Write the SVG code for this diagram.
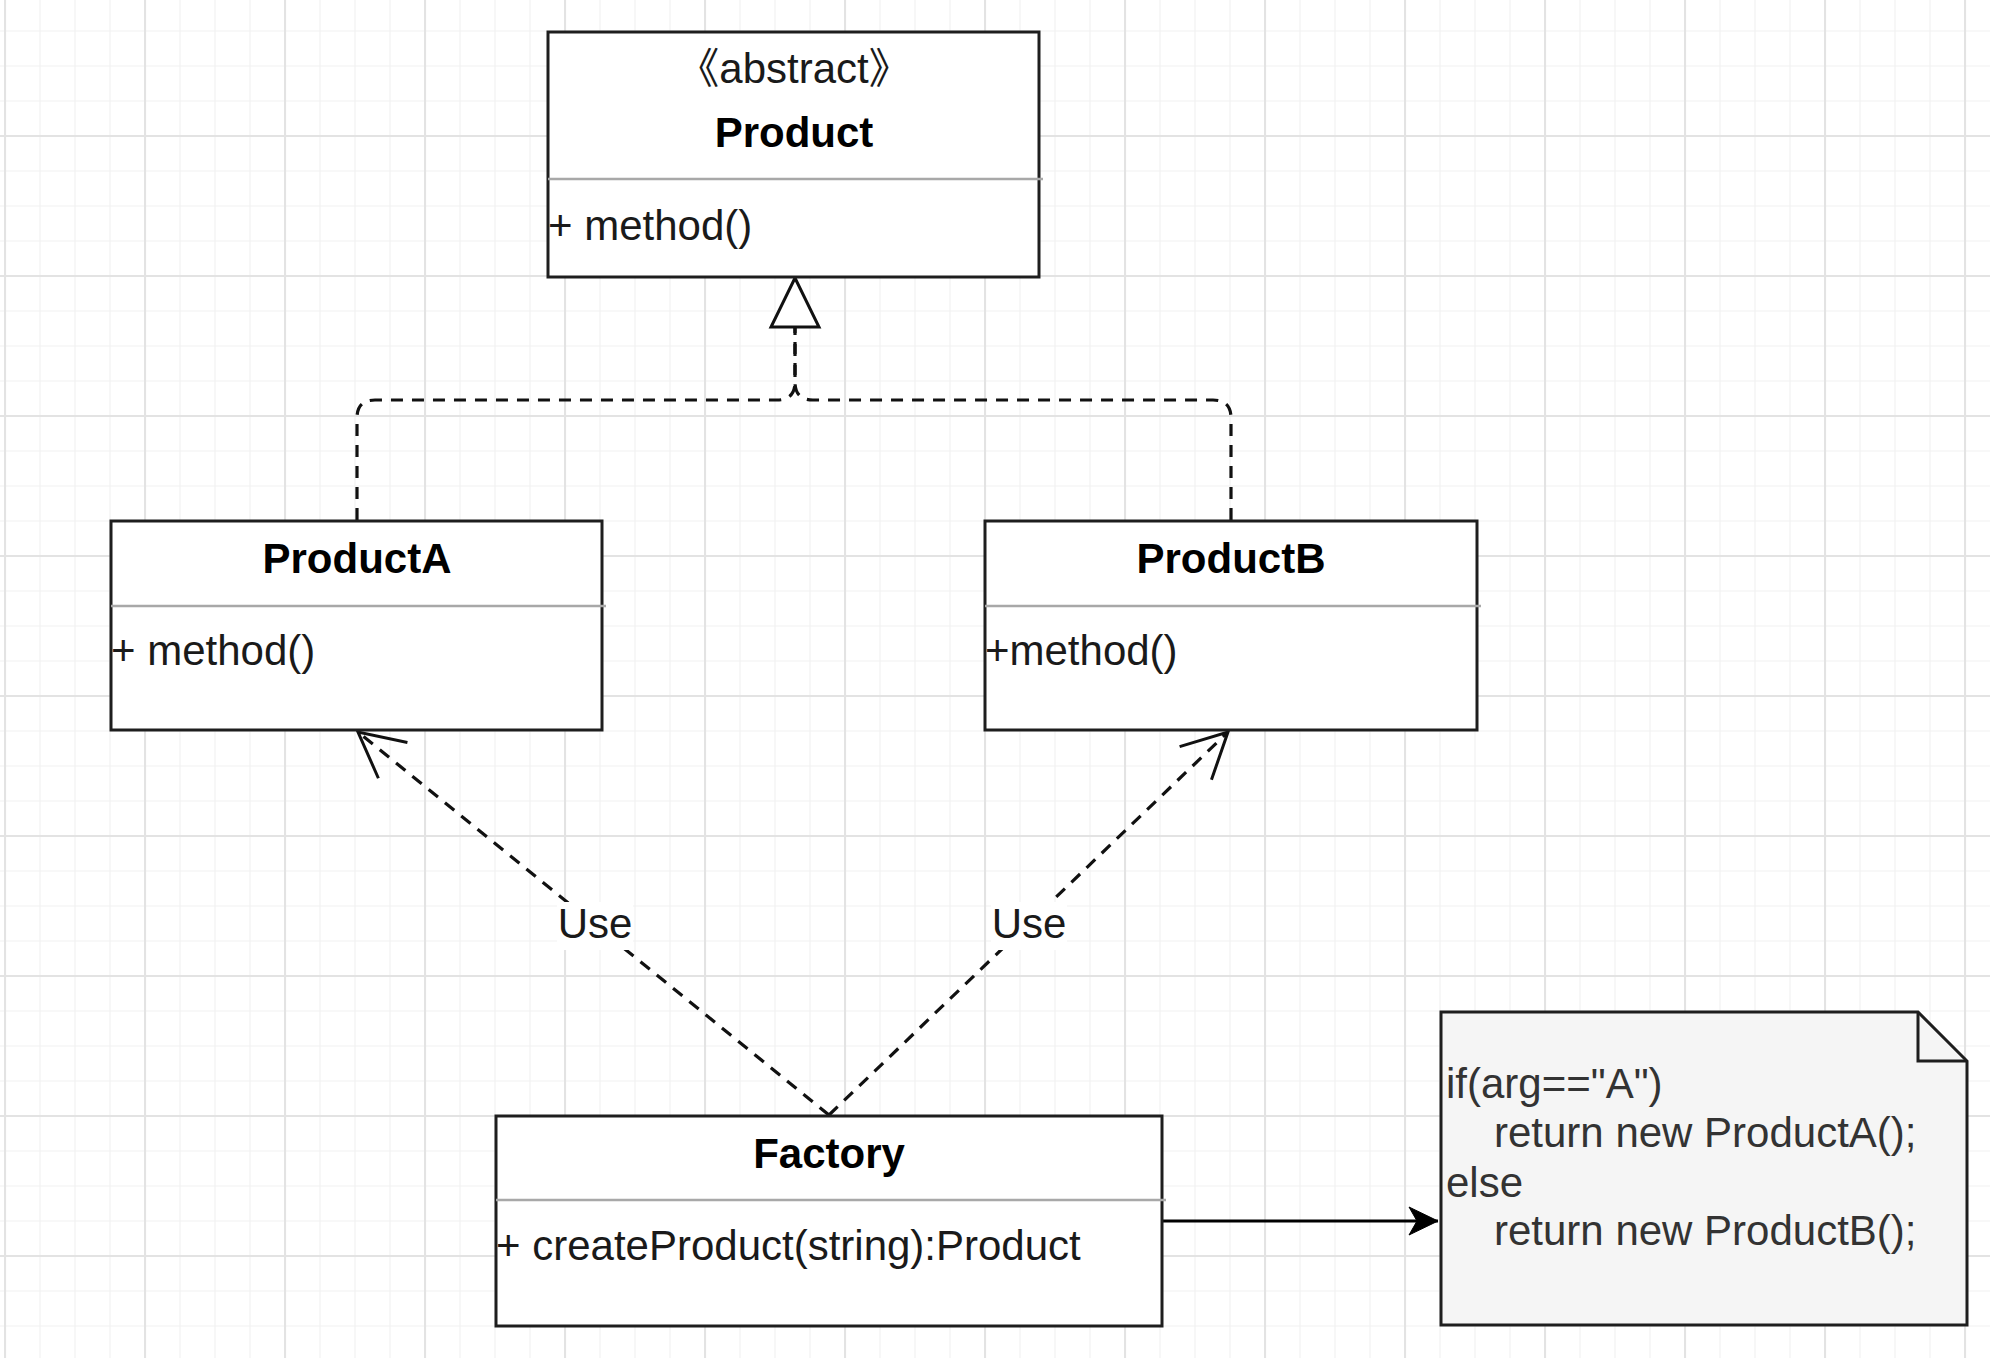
<svg xmlns="http://www.w3.org/2000/svg" width="1990" height="1358" viewBox="0 0 1990 1358">
<defs>
<style>
.box{fill:#ffffff;stroke:#1e1e1e;stroke-width:3}
.div{stroke:#a8a8a8;stroke-width:2.5}
.t{font-family:"Liberation Sans","Noto Sans CJK SC",Arial,sans-serif;font-size:42px;fill:#1a1a1a}
.b{font-weight:bold;fill:#000;text-anchor:middle}
.c{text-anchor:middle}
.dash{fill:none;stroke:#111;stroke-width:3.2;stroke-dasharray:12 9}
.note{fill:#f5f5f5;stroke:#1e1e1e;stroke-width:3}
.nt{fill:#333}
</style>
<pattern id="grid" patternUnits="userSpaceOnUse" x="4" y="-5" width="140" height="140">
<path d="M36 0V140M71 0V140M106 0V140M0 36H140M0 71H140M0 106H140" stroke="#f2f2f2" stroke-width="1.2" fill="none"/>
<path d="M1 0V140M0 1H140" stroke="#e3e3e3" stroke-width="2.2" fill="none"/>
</pattern>
<marker id="open" markerUnits="userSpaceOnUse" markerWidth="70" markerHeight="70" viewBox="-60 -35 70 70" refX="0" refY="0" orient="auto" overflow="visible">
<path d="M-45 -23 L0 0 L-45 23" fill="none" stroke="#111" stroke-width="3" stroke-dasharray="none"/>
</marker>
<marker id="fill" markerUnits="userSpaceOnUse" markerWidth="40" markerHeight="40" viewBox="-35 -20 40 40" refX="0" refY="0" orient="auto" overflow="visible">
<path d="M0 0 L-29 -14 L-21 0 L-29 14 Z" fill="#000" stroke="#000" stroke-width="1"/>
</marker>
</defs>
<rect x="0" y="0" width="1990" height="1358" fill="#ffffff"/>
<rect x="0" y="0" width="1990" height="1358" fill="url(#grid)"/>

<g id="connectors">
<path class="dash" d="M357 520 V418 Q357 400 375 400 H777 Q795 400 795 382 V327"/>
<path class="dash" d="M1231 520 V418 Q1231 400 1213 400 H813 Q795 400 795 382 V327"/>
<polygon points="795,278 771,327 819,327" fill="#ffffff" stroke="#111" stroke-width="3" stroke-linejoin="miter"/>
<path class="dash" d="M829 1115 L358 732" marker-end="url(#open)"/>
<path class="dash" d="M829 1115 L1228 732" marker-end="url(#open)"/>
<rect x="557" y="902" width="76" height="48" fill="#ffffff"/>
<text class="t c" x="595" y="938">Use</text>
<rect x="991" y="902" width="76" height="48" fill="#ffffff"/>
<text class="t c" x="1029" y="938">Use</text>
<path d="M1162 1221 H1438" stroke="#000" stroke-width="3" fill="none" marker-end="url(#fill)"/>
</g>

<g id="Product">
<rect class="box" x="548" y="32" width="491" height="245"/>
<line class="div" x1="548" y1="179" x2="1043" y2="179"/>
<text class="t c" x="794" y="83">《abstract》</text>
<text class="t b" x="794" y="147">Product</text>
<text class="t" x="548" y="240">+ method()</text>
</g>

<g id="ProductA">
<rect class="box" x="111" y="521" width="491" height="209"/>
<line class="div" x1="111" y1="606" x2="606" y2="606"/>
<text class="t b" x="357" y="573">ProductA</text>
<text class="t" x="111" y="665">+ method()</text>
</g>

<g id="ProductB">
<rect class="box" x="985" y="521" width="492" height="209"/>
<line class="div" x1="985" y1="606" x2="1481" y2="606"/>
<text class="t b" x="1231" y="573">ProductB</text>
<text class="t" x="985" y="665">+method()</text>
</g>

<g id="Factory">
<rect class="box" x="496" y="1116" width="666" height="210"/>
<line class="div" x1="496" y1="1200" x2="1166" y2="1200"/>
<text class="t b" x="829" y="1168">Factory</text>
<text class="t" x="496" y="1260">+ createProduct(string):Product</text>
</g>

<g id="Note">
<path class="note" d="M1441 1012 H1918 L1967 1061 V1325 H1441 Z"/>
<path d="M1918 1012 V1061 H1967" fill="none" stroke="#1e1e1e" stroke-width="3"/>
<text class="t nt" x="1446" y="1098">if(arg=="A")</text>
<text class="t nt" x="1494" y="1147">return new ProductA();</text>
<text class="t nt" x="1446" y="1197">else</text>
<text class="t nt" x="1494" y="1245">return new ProductB();</text>
</g>
</svg>
